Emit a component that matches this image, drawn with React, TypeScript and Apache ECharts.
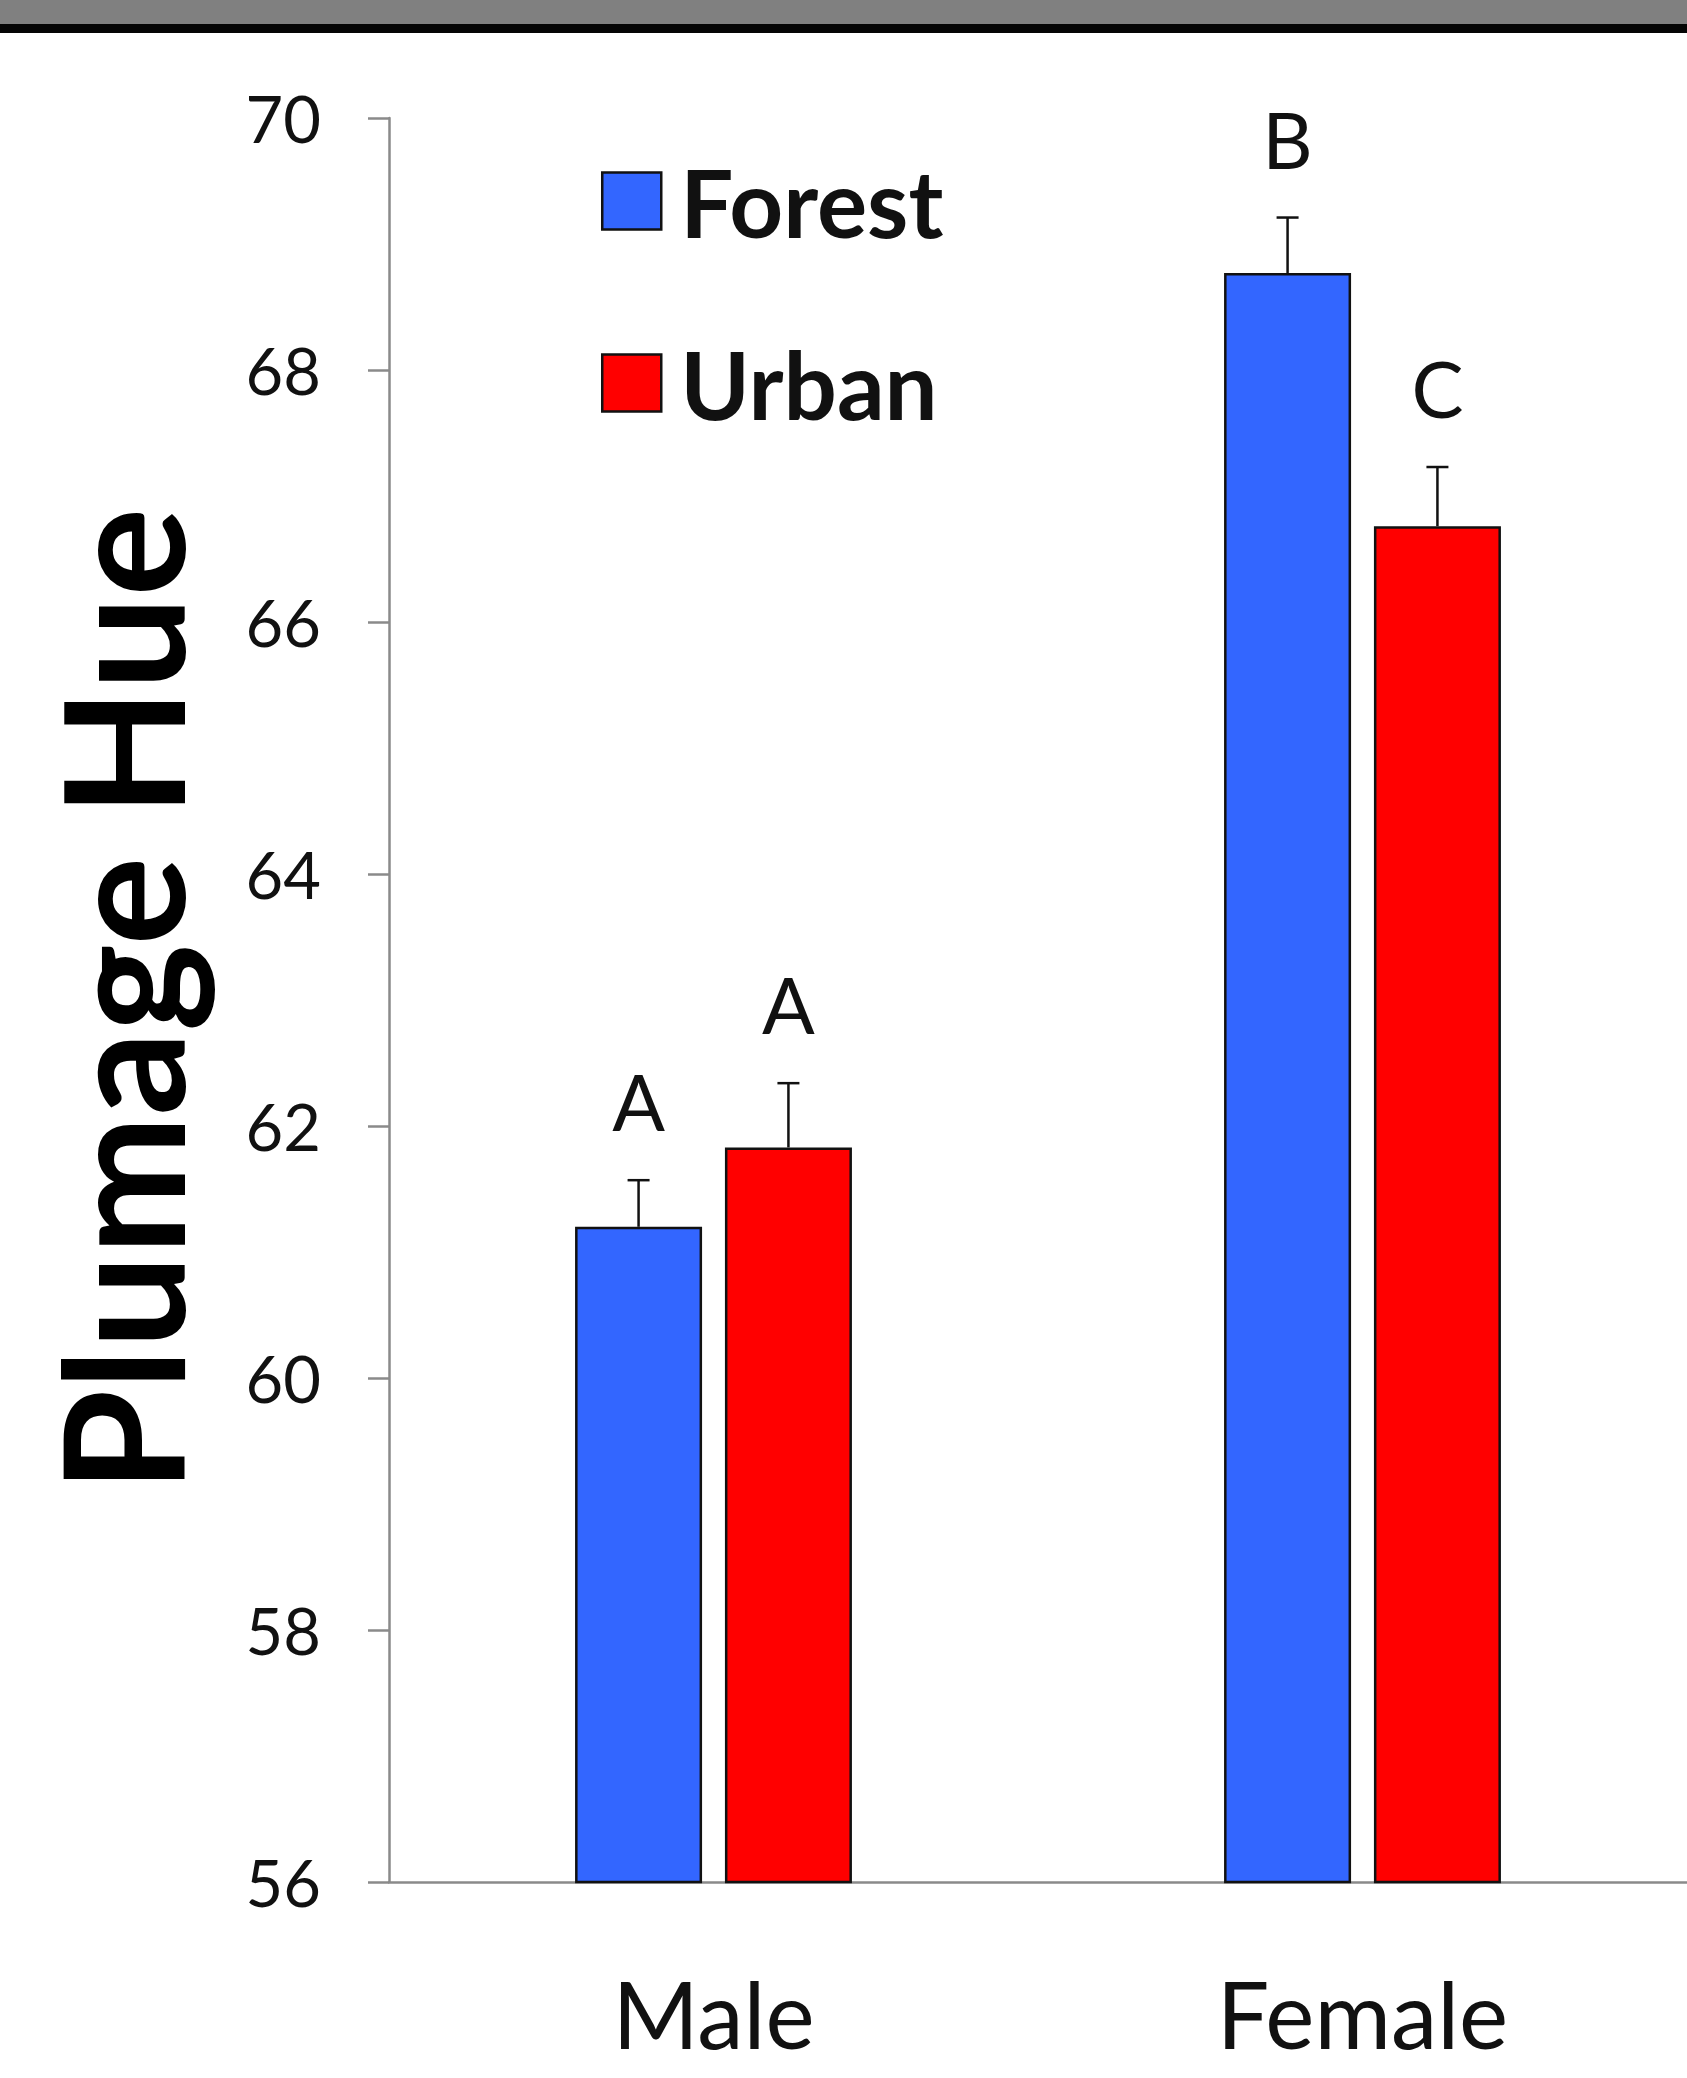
import React, { useEffect, useRef } from "react";
import * as echarts from "echarts";

const categories = ["Male", "Female"];
const seriesNames = ["Forest", "Urban"];
const forestValues = [61.2, 68.77];
const urbanValues = [61.83, 66.76];
const forestErrors = [0.37, 0.44];
const urbanErrors = [0.51, 0.47];
const forestLetters = ["A", "B"];
const urbanLetters = ["A", "C"];
const yTicks = { min: 56, max: 70, interval: 2 };

const BAR_WIDTH = 127;
const BAR_GAP = 0.18;
const FONT = "Lato";

export default function App() {
  const ref = useRef<HTMLDivElement>(null);
  useEffect(() => {
    if (!ref.current) return;
    const chart = echarts.init(ref.current, null, { renderer: "svg" });
    const offset = (BAR_WIDTH * (1 + BAR_GAP)) / 2;

    const errorSeries = (name: string, values: number[], errs: number[], letters: string[], dir: number) => ({
      type: "custom",
      name,
      z: 5,
      silent: true,
      encode: { x: 0, y: 1 },
      data: values.map((v, i) => [i, v, errs[i]]),
      renderItem: (params: any, api: any) => {
        const idx = api.value(0);
        const v = api.value(1);
        const e = api.value(2);
        const base = api.coord([idx, v]);
        const top = api.coord([idx, v + e]);
        const x = base[0] + dir * offset;
        const cap = 11;
        const letter = letters[params.dataIndex];
        return {
          type: "group",
          children: [
            { type: "line", shape: { x1: x, y1: base[1], x2: x, y2: top[1] }, style: { stroke: "#111", lineWidth: 2.5 } },
            { type: "line", shape: { x1: x - cap, y1: top[1], x2: x + cap, y2: top[1] }, style: { stroke: "#111", lineWidth: 2.5 } },
            {
              type: "text",
              style: {
                text: letter,
                x,
                y: top[1] - 40,
                align: "center",
                verticalAlign: "bottom",
                fontSize: 78,
                fontFamily: FONT,
                fill: "#111",
              },
            },
          ],
        };
      },
    });

    chart.setOption({
      animation: false,
      backgroundColor: "#ffffff",
      grid: { left: 389, right: 0, top: 118, bottom: 2078 - 1882, containLabel: false },
      legend: {
        data: seriesNames,
        orient: "vertical",
        left: 596,
        top: 149,
        itemWidth: 59,
        itemHeight: 57,
        itemGap: 88,
        icon: "rect",
        selectedMode: false,
        itemStyle: { borderWidth: 2.5, borderColor: "#111" },
        textStyle: { fontSize: 94, fontWeight: "bold", fontFamily: FONT, color: "#111", padding: [0, 0, 0, 14] },
      },
      graphic: [
        { type: "rect", left: 0, top: 0, shape: { width: 1687, height: 24 }, style: { fill: "#808080" } },
        { type: "rect", left: 0, top: 24, shape: { width: 1687, height: 9 }, style: { fill: "#050505" } },
      ],
      xAxis: {
        type: "category",
        data: categories,
        axisLine: { lineStyle: { color: "#8a8a8a", width: 2.5 } },
        axisTick: { show: false },
        axisLabel: { fontSize: 93, fontFamily: FONT, color: "#111", margin: 84 },
      },
      yAxis: {
        type: "value",
        min: yTicks.min,
        max: yTicks.max,
        interval: yTicks.interval,
        name: "Plumage Hue",
        nameLocation: "middle",
        nameRotate: 90,
        nameGap: 186,
        nameTextStyle: { fontSize: 166, fontWeight: "bold", fontFamily: FONT, color: "#000" },
        splitLine: { show: false },
        axisLine: { show: true, lineStyle: { color: "#8a8a8a", width: 2.5 } },
        axisTick: { show: true, inside: false, length: 21, lineStyle: { color: "#8a8a8a", width: 2.5 } },
        axisLabel: { fontSize: 65, fontFamily: FONT, color: "#111", margin: 68 },
      },
      series: [
        {
          type: "bar",
          name: "Forest",
          data: forestValues,
          barWidth: BAR_WIDTH,
          barGap: `${BAR_GAP * 100}%`,
          itemStyle: { color: "#3366FF", borderColor: "#111", borderWidth: 2.5 },
        },
        {
          type: "bar",
          name: "Urban",
          data: urbanValues,
          barWidth: BAR_WIDTH,
          barGap: `${BAR_GAP * 100}%`,
          itemStyle: { color: "#FF0000", borderColor: "#111", borderWidth: 2.5 },
        },
        errorSeries("ForestErr", forestValues, forestErrors, forestLetters, -1),
        errorSeries("UrbanErr", urbanValues, urbanErrors, urbanLetters, 1),
      ],
    });
    return () => chart.dispose();
  }, []);
  return <div ref={ref} style={{ position: "absolute", left: 0, top: 0, width: 1687, height: 2078 }} />;
}
